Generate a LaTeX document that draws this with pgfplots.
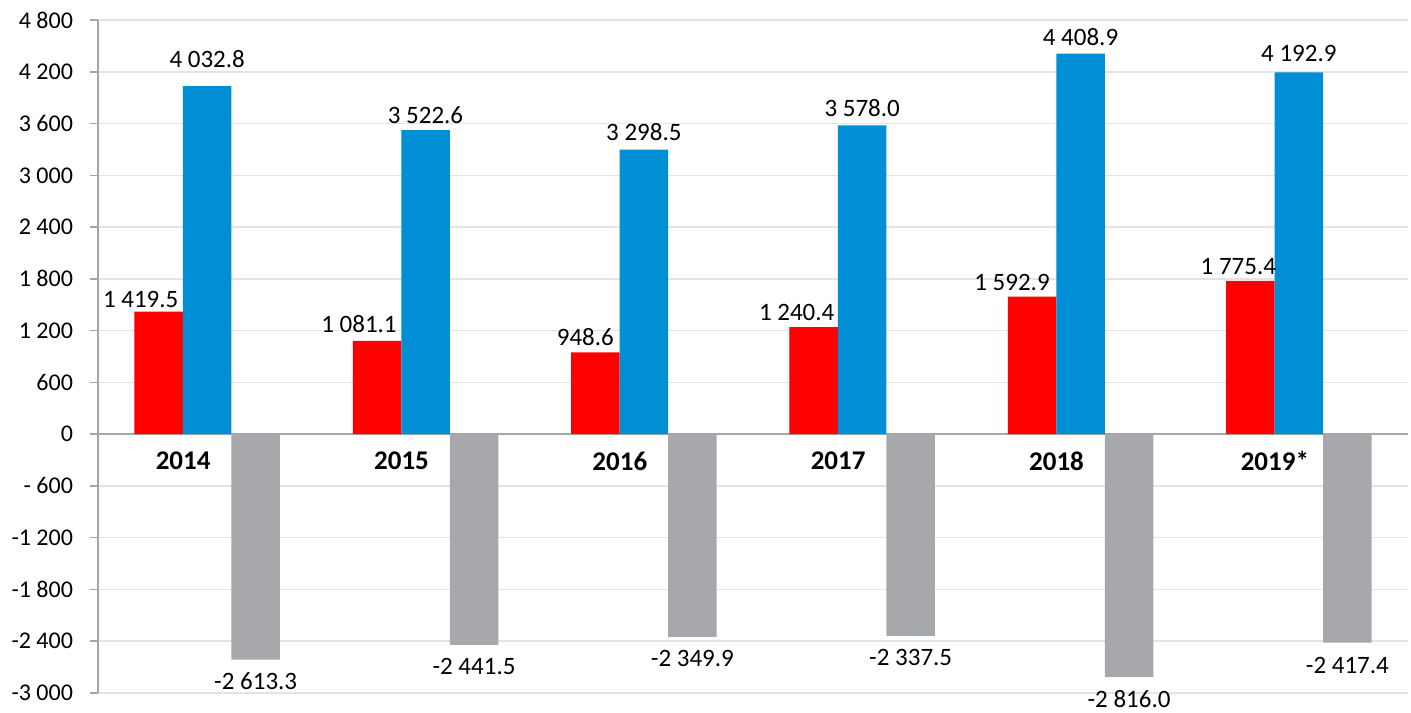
\documentclass[border=0pt]{standalone}
\usepackage{fontspec}
\setmainfont{Carlito}
\usepackage{pgfplots}
\pgfplotsset{compat=1.18}
\usepackage{pgfplotstable}
\usetikzlibrary{calc}

\definecolor{barred}{RGB}{255,0,0}
\definecolor{barblue}{RGB}{0,143,213}
\definecolor{bargray}{RGB}{167,168,172}
\definecolor{gridgray}{RGB}{228,228,228}
\definecolor{axisgray}{RGB}{166,166,166}

% x, value, label, label x-offset (bp), label y-offset (bp)
\pgfplotstableread[col sep=comma]{
x,y,lab,dx,dy
0,1419.5,1 419.5,-9,2
1,1081.1,1 081.1,-9,4
2,948.6,948.6,-5,3
3,1240.4,1 240.4,-8.5,3
4,1592.9,1 592.9,-10,3
5,1775.4,1 775.4,-6,3
}\redtab

\pgfplotstableread[col sep=comma]{
x,y,lab,dx,dy
0,4032.8,4 032.8,0,9
1,3522.6,3 522.6,0,3
2,3298.5,3 298.5,0,4
3,3578.0,3 578.0,0,4
4,4408.9,4 408.9,0,4
5,4192.9,4 192.9,0,5
}\bluetab

\pgfplotstableread[col sep=comma]{
x,y,lab,dx,dy
0,-2613.3,-2 613.3,0,-6.5
1,-2441.5,-2 441.5,0,-6.5
2,-2349.9,-2 349.9,0,-6.5
3,-2337.5,-2 337.5,0,-6.5
4,-2816.0,-2 816.0,0,-6.5
5,-2417.4,-2 417.4,0,-7
}\graytab

\pgfplotsset{
  lbl/.style={
    point meta=explicit symbolic,
    nodes near coords,
    visualization depends on={\thisrow{dx}\as\dx},
    visualization depends on={\thisrow{dy}\as\dy},
    nodes near coords style={font=\fontsize{12.5bp}{15bp}\selectfont,
      inner sep=0pt, text=black, xshift=\dx bp, yshift=\dy bp, #1},
  },
}

\begin{document}
\begin{tikzpicture}
\begin{axis}[
    scale only axis, width=655bp, height=336.5bp,
    xmin=-0.5, xmax=5.5, ymin=-3000, ymax=4800,
    axis lines*=left,
    x axis line style={draw=none},
    y axis line style={axisgray, line width=0.75bp},
    xtick={0,...,5},
    xticklabels={2014,2015,2016,2017,2018,2019*},
    xtick style={draw=none},
    xticklabel style={font=\fontsize{13.5bp}{16bp}\selectfont\bfseries,
      anchor=center, yshift=120bp, xshift=-12bp},
    ytick={-3000,-2400,...,4800},
    yticklabels={-3 000,-2 400,-1 800,-1 200,- 600,0,600,1 200,1 800,2 400,3 000,3 600,4 200,4 800},
    yticklabel style={font=\fontsize{12bp}{14bp}\selectfont, xshift=-5bp},
    ytick style={axisgray, line width=0.75bp},
    tick align=outside, major tick length=4bp,
    ymajorgrids, grid style={gridgray, line width=0.75bp},
    extra y ticks={0}, extra y tick labels={},
    extra y tick style={grid style={axisgray, line width=0.75bp}},
    ybar, bar width=24.25bp,
    clip=false,
]
\addplot[fill=barred, draw=none, bar shift=-24.25bp, lbl={anchor=south}]
  table[x=x, y=y, meta=lab]{\redtab};
\addplot[fill=barblue, draw=none, bar shift=0bp, lbl={anchor=south}]
  table[x=x, y=y, meta=lab]{\bluetab};
\addplot[fill=bargray, draw=none, bar shift=24.25bp, lbl={anchor=north}]
  table[x=x, y=y, meta=lab]{\graytab};
\coordinate (sw) at (rel axis cs:0,0);
\coordinate (ne) at (rel axis cs:1,1);
\end{axis}
\pgfresetboundingbox
\path[use as bounding box] ($(sw)+(-49bp,-10bp)$) rectangle ($(ne)+(1.5bp,10bp)$);
\end{tikzpicture}
\end{document}
